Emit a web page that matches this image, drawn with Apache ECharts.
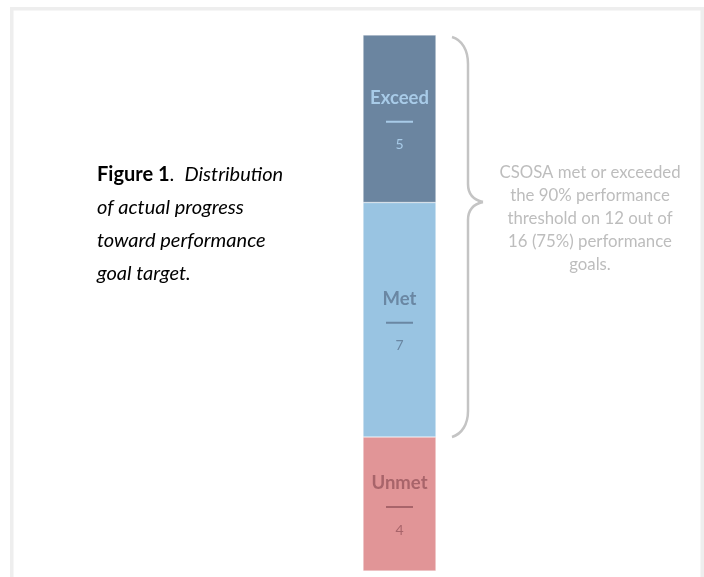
<!DOCTYPE html>
<html><head><meta charset="utf-8">
<script src="https://cdn.jsdelivr.net/npm/echarts@6/dist/echarts.min.js"></script>
<style>html,body{margin:0;padding:0;background:#fff}#c{width:704px;height:577px}</style>
</head><body><div id="c"></div>
<script>
const categories = ['Goals'];
const segmentNames = ['Unmet', 'Met', 'Exceed'];
const segmentValues = [4, 7, 5];
const segmentColors = ['#e19597', '#99c4e2', '#6b85a0'];
const labelColors = ['#a8646a', '#6a87a3', '#a8cbe8'];
const captionLines = ['CSOSA met or exceeded', 'the 90% performance', 'threshold on 12 out of', '16 (75%) performance', 'goals.'];

const chart = echarts.init(document.getElementById('c'));
const series = segmentNames.map((name, i) => ({
  name: name,
  type: 'bar',
  stack: 'all',
  barWidth: '100%',
  data: [segmentValues[i]],
  itemStyle: { color: segmentColors[i], borderColor: 'rgba(255,255,255,0.5)', borderWidth: 0.6 },
  label: {
    show: true,
    position: 'inside',
    offset: [0, 2],
    formatter: '{n|' + name + '}\n{l|}\n{v|{c}}',
    rich: {
      n: { fontFamily: 'Lato', fontWeight: 'bold', fontSize: 18.5, color: labelColors[i], lineHeight: 24, align: 'center' },
      l: { width: 27, height: 2, backgroundColor: labelColors[i], lineHeight: 24, align: 'center' },
      v: { fontFamily: 'Lato', fontSize: 14, color: labelColors[i], lineHeight: 22, align: 'center' }
    }
  }
}));

const braceStyle = { fill: null, stroke: '#c4c4c4', lineWidth: 2.5 };
chart.setOption({
  animation: false,
  grid: { left: 363, width: 73, top: 35, bottom: 6 },
  xAxis: { type: 'category', data: categories, show: false },
  yAxis: { type: 'value', min: 0, max: 16, show: false },
  series: series,
  graphic: [
    { type: 'rect', shape: { x: 11.75, y: 8.75, width: 690.5, height: 620 }, style: { fill: 'rgba(0,0,0,0)', stroke: '#eeeeee', lineWidth: 3.5 }, silent: true },
    { type: 'bezierCurve', shape: { x1: 452, y1: 37, cpx1: 462, cpy1: 40, cpx2: 468, cpy2: 50, x2: 468, y2: 64 }, style: braceStyle, silent: true },
    { type: 'line', shape: { x1: 468, y1: 64, x2: 468, y2: 184 }, style: braceStyle, silent: true },
    { type: 'bezierCurve', shape: { x1: 468, y1: 184, cpx1: 468, cpy1: 194, cpx2: 474, cpy2: 200, x2: 483, y2: 202 }, style: braceStyle, silent: true },
    { type: 'bezierCurve', shape: { x1: 483, y1: 202, cpx1: 474, cpy1: 204, cpx2: 468, cpy2: 210, x2: 468, y2: 220 }, style: braceStyle, silent: true },
    { type: 'line', shape: { x1: 468, y1: 220, x2: 468, y2: 411 }, style: braceStyle, silent: true },
    { type: 'bezierCurve', shape: { x1: 468, y1: 411, cpx1: 468, cpy1: 424, cpx2: 462, cpy2: 434, x2: 452, y2: 437 }, style: braceStyle, silent: true },
    { type: 'text', x: 590, y: 161, style: {
        text: captionLines.join('\n'), align: 'center',
        font: '16.8px Lato', fill: '#bdbdbd', lineHeight: 23 } },
    { type: 'text', x: 97, y: 158, style: {
        text: '{b|Figure 1}{n|.  }{i|Distribution}\n{i|of actual progress}\n{i|toward performance}\n{i|goal target.}',
        rich: {
          b: { fontFamily: 'Lato', fontWeight: 'bold', fontSize: 20, fill: '#000', lineHeight: 33 },
          n: { fontFamily: 'Lato', fontSize: 20, fill: '#000', lineHeight: 33 },
          i: { fontFamily: 'Lato', fontStyle: 'italic', fontSize: 20, fill: '#000', lineHeight: 33 }
        } } }
  ]
});
</script></body></html>
